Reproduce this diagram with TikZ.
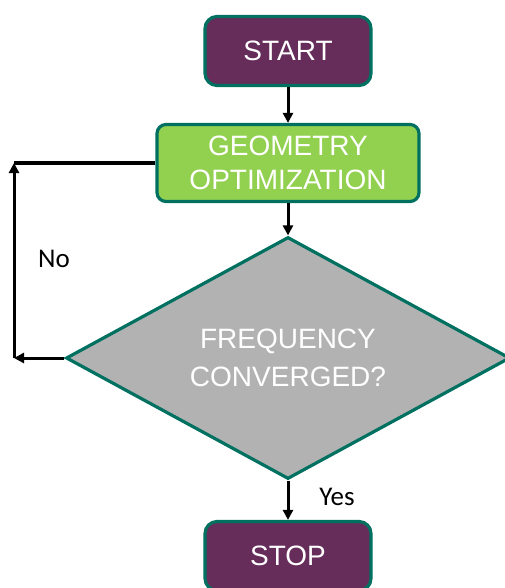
\documentclass[tikz,border=0pt]{standalone}
\usepackage{fontspec}
\setmainfont{Liberation Sans}
\newfontfamily\labelfont{Carlito}
\usetikzlibrary{shapes.geometric,arrows.meta}
\definecolor{fcpurple}{RGB}{102,45,91}
\definecolor{fcgreen}{RGB}{146,208,80}
\definecolor{fcteal}{RGB}{0,112,96}
\definecolor{fcgrey}{RGB}{178,178,178}
\tikzset{
  termbox/.style={draw=fcteal, line width=3.2pt, fill=fcpurple, rounded corners=12pt,
    text=white, font=\fontsize{28}{34}\selectfont, minimum width=166pt, minimum height=69pt, inner sep=0pt},
  procbox/.style={draw=fcteal, line width=3.2pt, fill=fcgreen, rounded corners=9pt,
    text=white, font=\fontsize{28}{34}\selectfont, minimum width=262pt, minimum height=77pt, inner sep=0pt, align=center},
  decbox/.style={diamond, draw=fcteal, line width=3.2pt, fill=fcgrey, aspect=1.83,
    text=white, font=\fontsize{28}{38}\selectfont, minimum width=444pt, minimum height=242pt, inner sep=0pt, align=center},
  arr/.style={draw=black, line width=3pt, -{Triangle[length=10pt,width=10pt]}},
  plainline/.style={draw=black, line width=3pt},
  lbl/.style={font=\labelfont\fontsize{27}{30}\selectfont, text=black}
}
\begin{document}
\begin{tikzpicture}[x=1pt,y=-1pt]
\useasboundingbox (0,0) rectangle (505,588);
\node[termbox] (start) at (288,51) {START};
\node[procbox] (geo) at (288,163) {GEOMETRY\\OPTIMIZATION};
\node[decbox] (dec) at (288,358) {FREQUENCY\\CONVERGED?};
\node[termbox] (stop) at (288,556) {STOP};
\coordinate (c1) at (14,358);
\coordinate (c2) at (14,163);
\draw[arr] (start) -- (geo);
\draw[arr] (geo.south) -- (dec.north);
\draw[arr] (dec.south) -- (stop.north);
\draw[arr] (dec.west) -- (c1);
\draw[arr] (c1) -- (c2);
\draw[plainline] (c2) -- (geo.west);
\node[lbl] (no) at (54,259) {No};
\node[lbl] (yes) at (337,497) {Yes};
\end{tikzpicture}
\end{document}
